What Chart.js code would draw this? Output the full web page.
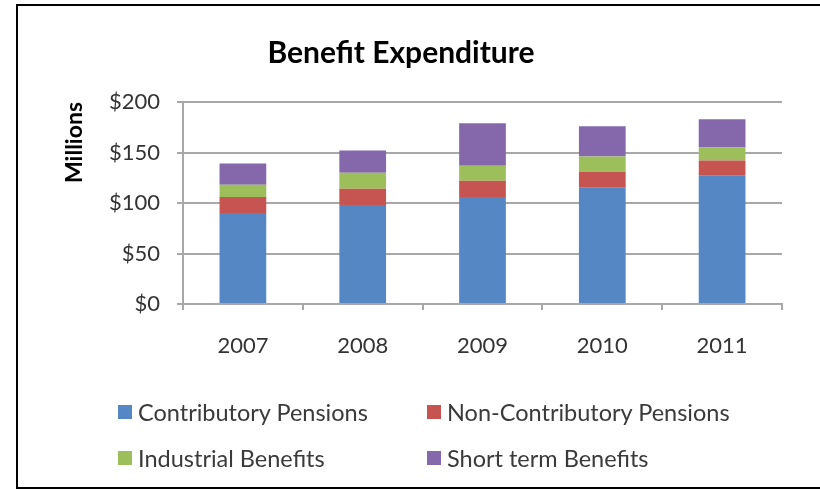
<!DOCTYPE html>
<html>
<head>
<meta charset="utf-8">
<script src="https://cdn.jsdelivr.net/npm/chart.js@4.4.1/dist/chart.umd.min.js"></script>
<style>
    body { margin: 0; background: #fff; overflow: hidden; }
    #frame { position: absolute; left: 16px; top: 4px; width: 900px; height: 481px; border: 2px solid #000; border-right: none; }
    #chartBox { position: absolute; left: 0; top: 0; width: 820px; height: 491px; }
    #legend { position: absolute; left: 118px; top: 398px; display: grid; grid-template-columns: 309px auto; grid-auto-rows: 46px; font-family: Lato, sans-serif; font-size: 23.5px; color: #3a3a3a; }
    .item { display: flex; align-items: center; height: 28px; }
    .swatch { width: 14px; height: 14px; margin-right: 6px; }
</style>
</head>
<body>
<div id="frame"></div>
<div id="chartBox"><canvas id="benefitChart"></canvas></div>
<div id="legend"></div>
<script>
const years = ['2007', '2008', '2009', '2010', '2011'];
const contributory = [90, 98, 106, 115, 127];
const nonContributory = [16, 16, 16, 16, 15];
const industrial = [12, 16, 15, 15, 13];
const shortTerm = [21, 22, 42, 30, 28];
const yTicks = [0, 50, 100, 150, 200];

const seriesNames = ['Contributory Pensions', 'Non-Contributory Pensions', 'Industrial Benefits', 'Short term Benefits'];
const seriesColors = ['#5487c4', '#c65450', '#9cbf5b', '#8468ab'];
const gridGray = '#a8a8a8';

const datasets = [contributory, nonContributory, industrial, shortTerm].map((values, i) => ({
    label: seriesNames[i],
    data: values,
    backgroundColor: seriesColors[i],
    categoryPercentage: 1,
    barPercentage: 0.39
}));

const ctx = document.getElementById('benefitChart').getContext('2d');
const benefitChart = new Chart(ctx, {
    type: 'bar',
    data: { labels: years, datasets: datasets },
    options: {
        responsive: true,
        maintainAspectRatio: false,
        animation: false,
        layout: { padding: { left: 20, right: 38, top: 0, bottom: 100 } },
        plugins: {
            legend: { display: false },
            tooltip: { enabled: false },
            title: {
                display: true,
                text: 'Benefit Expenditure',
                color: '#000',
                font: { family: 'Lato', size: 30, weight: 'bold' },
                padding: { top: 35, bottom: 31 }
            }
        },
        scales: {
            x: {
                stacked: true,
                grid: { drawOnChartArea: false, color: gridGray, lineWidth: 2, tickLength: 6 },
                border: { color: gridGray, width: 2 },
                ticks: { color: '#333', padding: 23, font: { family: 'Lato', size: 22 } },
                afterFit: scale => { scale.height = 87; }
            },
            y: {
                stacked: true,
                min: 0,
                max: 200,
                afterBuildTicks: scale => { scale.ticks = yTicks.map(v => ({ value: v })); },
                grid: { color: gridGray, lineWidth: 2, tickLength: 6 },
                border: { color: gridGray, width: 2 },
                ticks: {
                    color: '#333',
                    padding: 17,
                    font: { family: 'Lato', size: 22 },
                    callback: value => '$' + value
                },
                title: {
                    display: true,
                    text: 'Millions',
                    color: '#000',
                    align: 'end',
                    font: { family: 'Lato', size: 23, weight: 'bold' },
                    padding: { top: 41, bottom: 0 }
                },
                afterFit: scale => { scale.width = 163; }
            }
        }
    }
});

// leyenda en dos columnas como en el original
const legendDiv = document.getElementById('legend');
benefitChart.data.datasets.forEach(ds => {
    let item = document.createElement('div');
    item.className = 'item';
    let swatch = document.createElement('span');
    swatch.className = 'swatch';
    swatch.style.background = ds.backgroundColor;
    let label = document.createElement('span');
    label.textContent = ds.label;
    item.appendChild(swatch);
    item.appendChild(label);
    legendDiv.appendChild(item);
});
</script>
</body>
</html>
